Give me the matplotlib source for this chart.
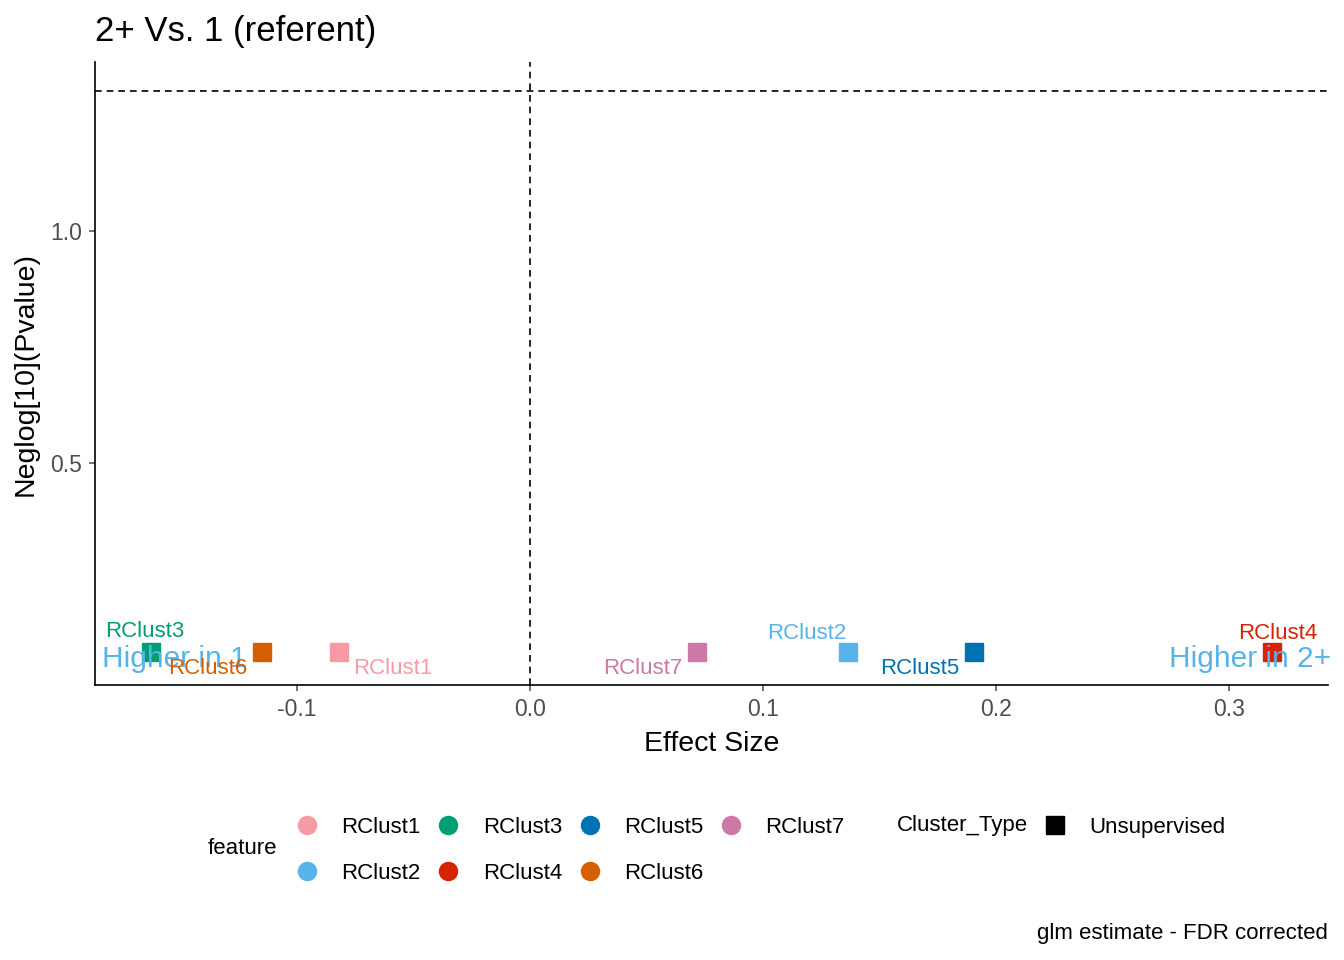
import matplotlib
matplotlib.use("Agg")
import matplotlib.pyplot as plt
from matplotlib.lines import Line2D

plt.rcParams['font.family'] = ['Liberation Sans', 'DejaVu Sans']
plt.rcParams['axes.unicode_minus'] = False

features = ["RClust1", "RClust2", "RClust3", "RClust4", "RClust5", "RClust6", "RClust7"]
effect = [-0.082, 0.1365, -0.1627, 0.3185, 0.1906, -0.115, 0.0717]
neglogp = [0.093, 0.093, 0.093, 0.093, 0.093, 0.093, 0.093]
colors = ["#F89AA3", "#56B4E9", "#009E73", "#D62300", "#0072B2", "#D55E00", "#CC79A7"]
# label offsets (points) mimicking repelled labels
offsets = {"RClust1": (39, -12), "RClust2": (-29.5, 13.5), "RClust3": (-4.3, 15),
           "RClust4": (4.3, 13), "RClust5": (-39, -12), "RClust6": (-39, -12),
           "RClust7": (-39, -12)}

fig = plt.figure(figsize=(13.44, 9.6), dpi=100)
ax = fig.add_axes([95/1344, 1-685/960, (1328-95)/1344, (685-62)/960])

for f, x, y, c in zip(features, effect, neglogp, colors):
    ax.plot([x], [y], marker='s', markersize=13.5, color=c, linestyle='none', zorder=3)

ax.axhline(1.30103, color='black', lw=1.2, dashes=(4, 3), zorder=1)
ax.axvline(0.0, color='black', lw=1.2, dashes=(4, 3), zorder=1)

ax.text(-0.1528, 0.0776, "Higher in 1", color="#56B4E9", fontsize=21.5, ha='center', va='center', zorder=4)
ax.text(0.309, 0.0776, "Higher in 2+", color="#56B4E9", fontsize=21.5, ha='center', va='center', zorder=4)

for f, x, y, c in zip(features, effect, neglogp, colors):
    dx, dy = offsets[f]
    ax.annotate(f, (x, y), xytext=(dx, dy), textcoords='offset points', color=c,
                fontsize=16, ha='center', va='center', zorder=5)

ax.set_xlim(-0.1867, 0.3425)
ax.set_ylim(0.0216, 1.364)
ax.set_xticks([-0.1, 0.0, 0.1, 0.2, 0.3])
ax.set_yticks([0.5, 1.0])
ax.tick_params(axis='both', labelsize=16.5, colors='#4D4D4D', labelcolor='#4D4D4D',
               length=4, width=1.1, pad=5.5)
for s in ['top', 'right']:
    ax.spines[s].set_visible(False)
for s in ['left', 'bottom']:
    ax.spines[s].set_linewidth(1.2)
    ax.spines[s].set_color('black')

ax.set_xlabel("Effect Size", fontsize=20.5, labelpad=7)
ax.set_ylabel("Neglog[10](Pvalue)", fontsize=20.5, labelpad=8)
fig.text(95/1344, 1-31/960, "2+ Vs. 1 (referent)", fontsize=25, ha='left', va='center')
fig.text(1328/1344, 1-933/960, "glm estimate - FDR corrected", fontsize=16, ha='right', va='center')

# feature legend
handles = [Line2D([], [], marker='o', linestyle='none', markersize=13, color=c) for c in colors]
fig.legend(handles, features, ncol=4, loc='upper left', bbox_to_anchor=(296/1344, 1-817/960),
           frameon=False, fontsize=16, handlelength=1.0, handletextpad=1.05,
           columnspacing=0.74, labelspacing=1.13, borderpad=0, borderaxespad=0)
fig.text(208/1344, 1-848/960, "feature", fontsize=16, ha='left', va='center')

fig.text(897/1344, 1-826/960, "Cluster_Type", fontsize=16, ha='left', va='center')
h2 = [Line2D([], [], marker='s', linestyle='none', markersize=13, color='black')]
fig.legend(h2, ["Unsupervised"], loc='upper left', bbox_to_anchor=(1044/1344, 1-817/960),
           frameon=False, fontsize=16, handlelength=1.0, handletextpad=1.05,
           borderpad=0, borderaxespad=0)

fig.savefig("out.png", dpi=100)
